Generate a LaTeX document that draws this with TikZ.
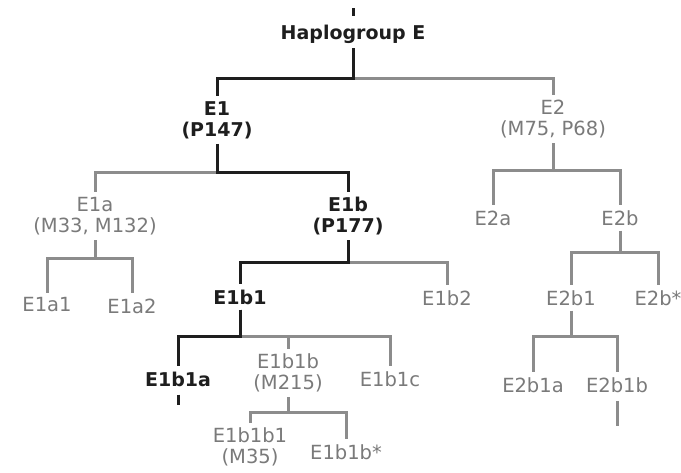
\documentclass[tikz,border=0pt]{standalone}
\usepackage{fontspec}
\setmainfont{DejaVu Sans}
\definecolor{lgray}{HTML}{8C8C8C}
\definecolor{tgray}{HTML}{7A7A7A}
\definecolor{dk}{HTML}{1E1E1E}
\tikzset{
  base/.style={inner xsep=2pt, inner ysep=5pt, align=center, font=\fontsize{19.5}{21}\selectfont},
  blab/.style={base, text=dk, font=\fontsize{19}{21}\selectfont\bfseries},
  glab/.style={base, text=tgray},
  blk/.style={draw=dk, line width=3pt},
  gry/.style={draw=lgray, line width=3pt},
}
\begin{document}
\begin{tikzpicture}[x=1pt,y=-1pt]
\useasboundingbox[fill=white] (0,0) rectangle (681,472);
% nodes
\node[blab] (H) at (353,34) {Haplogroup E};
\node[blab] (E1) at (217,120) {E1\\(P147)};
\node[glab] (E2) at (553,119) {E2\\(M75, P68)};
\node[glab] (E1a) at (95,216) {E1a\\(M33, M132)};
\node[blab] (E1b) at (348,216) {E1b\\(P177)};
\node[glab] (E1a1) at (47,305) {E1a1};
\node[glab] (E1a2) at (132,306) {E1a2};
\node[blab] (E1b1) at (240,297) {E1b1};
\node[glab] (E1b2) at (447,298) {E1b2};
\node[blab] (E1b1a) at (178,379) {E1b1a};
\node[glab] (E1b1b) at (288,373) {E1b1b\\(M215)};
\node[glab] (E1b1c) at (390,379) {E1b1c};
\node[glab] (E1b1b1) at (250,447) {E1b1b1\\(M35)};
\node[glab] (E1b1bs) at (346,452) {E1b1b*};
\node[glab] (E2a) at (493,218) {E2a};
\node[glab] (E2b) at (620,218) {E2b};
\node[glab] (E2b1) at (571,298) {E2b1};
\node[glab] (E2bs) at (658,298) {E2b*};
\node[glab] (E2b1a) at (533,385) {E2b1a};
\node[glab] (E2b1b) at (617,385) {E2b1b};
% bar levels
\coordinate (bH) at (0,78);
\coordinate (bE1) at (0,172);
\coordinate (bE1a) at (0,258);
\coordinate (bE1b) at (0,262);
\coordinate (bE1b1) at (0,336);
\coordinate (bE1b1b) at (0,412);
\coordinate (bE2) at (0,170);
\coordinate (bE2b) at (0,252);
\coordinate (bE2b1) at (0,336);
% gray connectors first
\draw[gry] (H.south) -- (H.south |- bH) -| (E2.north);
\draw[gry] (E1.south) -- (E1.south |- bE1) -| (E1a.north);
\draw[gry] (E1a.south) -- (E1a.south |- bE1a) -| (E1a1.north);
\draw[gry] (E1a.south) -- (E1a.south |- bE1a) -| (E1a2.north);
\draw[gry] (E1b.south) -- (E1b.south |- bE1b) -| (E1b2.north);
\draw[gry] (E1b1.south) -- (E1b1.south |- bE1b1) -| (E1b1b.north);
\draw[gry] (E1b1.south) -- (E1b1.south |- bE1b1) -| (E1b1c.north);
\draw[gry] (E1b1b.south) -- (E1b1b.south |- bE1b1b) -| (E1b1b1.north);
\draw[gry] (E1b1b.south) -- (E1b1b.south |- bE1b1b) -| (E1b1bs.north);
\draw[gry] (E2.south) -- (E2.south |- bE2) -| (E2a.north);
\draw[gry] (E2.south) -- (E2.south |- bE2) -| (E2b.north);
\draw[gry] (E2b.south) -- (E2b.south |- bE2b) -| (E2b1.north);
\draw[gry] (E2b.south) -- (E2b.south |- bE2b) -| (E2bs.north);
\draw[gry] (E2b1.south) -- (E2b1.south |- bE2b1) -| (E2b1a.north);
\draw[gry] (E2b1.south) -- (E2b1.south |- bE2b1) -| (E2b1b.north);
\draw[gry,shorten <=3pt] (E2b1b.south) -- ++(0,28);
% black connectors
\draw[blk,shorten <=4pt] (H.north) -- ++(0,-12);
\draw[blk] (H.south) -- (H.south |- bH) -| (E1.north);
\draw[blk] (E1.south) -- (E1.south |- bE1) -| (E1b.north);
\draw[blk] (E1b.south) -- (E1b.south |- bE1b) -| (E1b1.north);
\draw[blk] (E1b1.south) -- (E1b1.south |- bE1b1) -| (E1b1a.north);
\draw[blk,shorten <=3pt] (E1b1a.south) -- ++(0,13);
\end{tikzpicture}
\end{document}
